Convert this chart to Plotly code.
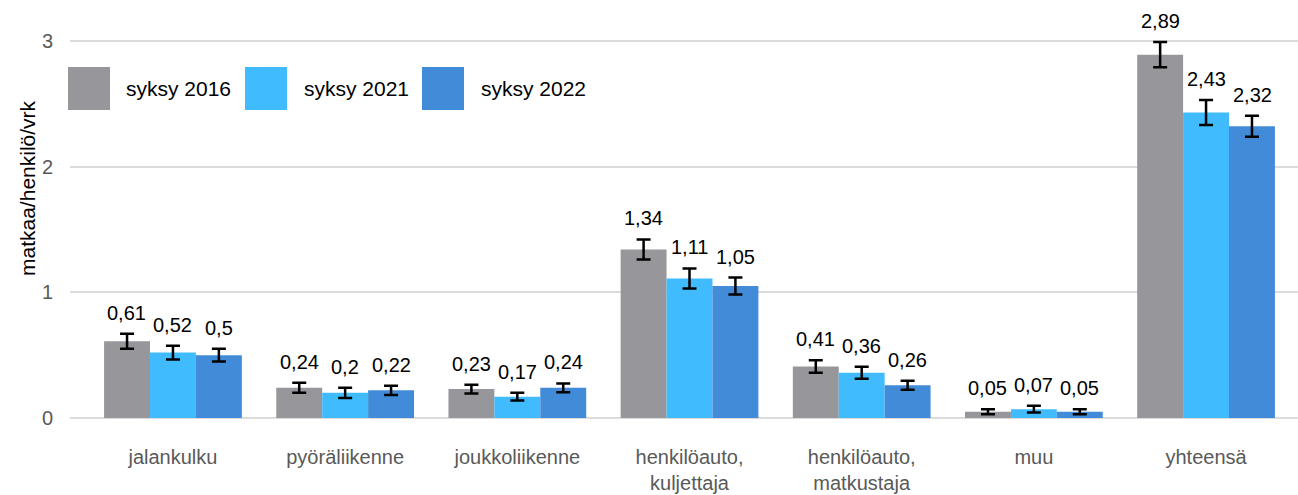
import plotly.graph_objects as go

# Data
categories = ["jalankulku", "pyöräliikenne", "joukkoliikenne",
              "henkilöauto,<br>kuljettaja", "henkilöauto,<br>matkustaja",
              "muu", "yhteensä"]
series_names = ["syksy 2016", "syksy 2021", "syksy 2022"]
values_2016 = [0.61, 0.24, 0.23, 1.34, 0.41, 0.05, 2.89]
values_2021 = [0.52, 0.20, 0.17, 1.11, 0.36, 0.07, 2.43]
values_2022 = [0.50, 0.22, 0.24, 1.05, 0.26, 0.05, 2.32]
err_2016 = [0.06, 0.04, 0.035, 0.08, 0.05, 0.02, 0.10]
err_2021 = [0.055, 0.04, 0.03, 0.08, 0.048, 0.027, 0.10]
err_2022 = [0.05, 0.037, 0.035, 0.067, 0.036, 0.02, 0.083]

colors = ["#97969b", "#40bcfe", "#418bd8"]
values = [values_2016, values_2021, values_2022]
errors = [err_2016, err_2021, err_2022]

FONT = "Arial, Liberation Sans, sans-serif"
W, H = 1298, 495
L, R, T, B = 70, 0, 10, 77
PW, PH = W - L - R, H - T - B

fig = go.Figure()
for name, vals, errs, col in zip(series_names, values, errors, colors):
    fig.add_trace(go.Bar(
        x=categories, y=vals, name=name, marker=dict(color=col, line=dict(width=0)),
        error_y=dict(type="data", array=errs, visible=True, color="black",
                     thickness=2.5, width=7),
        showlegend=False,
    ))

# data labels above error bars
bar_px = 46
for j, (vals, errs) in enumerate(zip(values, errors)):
    for cat, v, e in zip(categories, vals, errs):
        fig.add_annotation(
            x=cat, y=v + e, xref="x", yref="y",
            text=f"{v:g}".replace(".", ","), showarrow=False,
            xshift=(j - 1) * bar_px, yshift=21, yanchor="middle",
            font=dict(family=FONT, size=20, color="black"),
        )

# legend drawn by hand (large squares)
legend_sq = [68, 245, 422]
legend_tx = [124, 302, 479]
for name, col, sx, tx in zip(series_names, colors, legend_sq, legend_tx):
    fig.add_shape(type="rect", xref="paper", yref="paper",
                  x0=(sx - L) / PW, x1=(sx + 42 - L) / PW,
                  y0=1 - (110 - T) / PH, y1=1 - (67 - T) / PH,
                  fillcolor=col, line=dict(width=0))
    fig.add_annotation(xref="paper", yref="paper", x=(tx - L) / PW,
                       y=1 - (89 - T) / PH, xanchor="left", yanchor="middle",
                       text=name, showarrow=False,
                       font=dict(family=FONT, size=21, color="black"))

# y axis title
fig.add_annotation(xref="paper", yref="paper", x=(27 - L) / PW,
                   y=1 - (188 - T) / PH, text="matkaa/henkilö/vrk",
                   textangle=-90, showarrow=False, xanchor="center",
                   yanchor="middle", font=dict(family=FONT, size=21, color="black"))

fig.update_layout(
    width=W, height=H,
    margin=dict(l=L, r=R, t=T, b=B, autoexpand=False),
    barmode="group", bargap=0.2, bargroupgap=0,
    plot_bgcolor="white", paper_bgcolor="white",
    font=dict(family=FONT),
    xaxis=dict(range=[-0.598, 6.534], showgrid=False, showline=False,
               automargin=False,
               ticks="outside", ticklen=21, tickcolor="rgba(0,0,0,0)",
               tickfont=dict(size=20, color="#595959")),
    yaxis=dict(range=[0, 3.245], tickvals=[0, 1, 2, 3], showgrid=True,
               automargin=False,
               gridcolor="#dcdcdc", gridwidth=2, zeroline=True,
               zerolinecolor="#dcdcdc", zerolinewidth=2, showline=False,
               ticks="outside", ticklen=12, tickcolor="rgba(0,0,0,0)",
               tickfont=dict(size=20, color="#595959")),
)

fig.write_html("out.html", config={"displayModeBar": False},
               post_script="document.body.style.margin='0px';")
